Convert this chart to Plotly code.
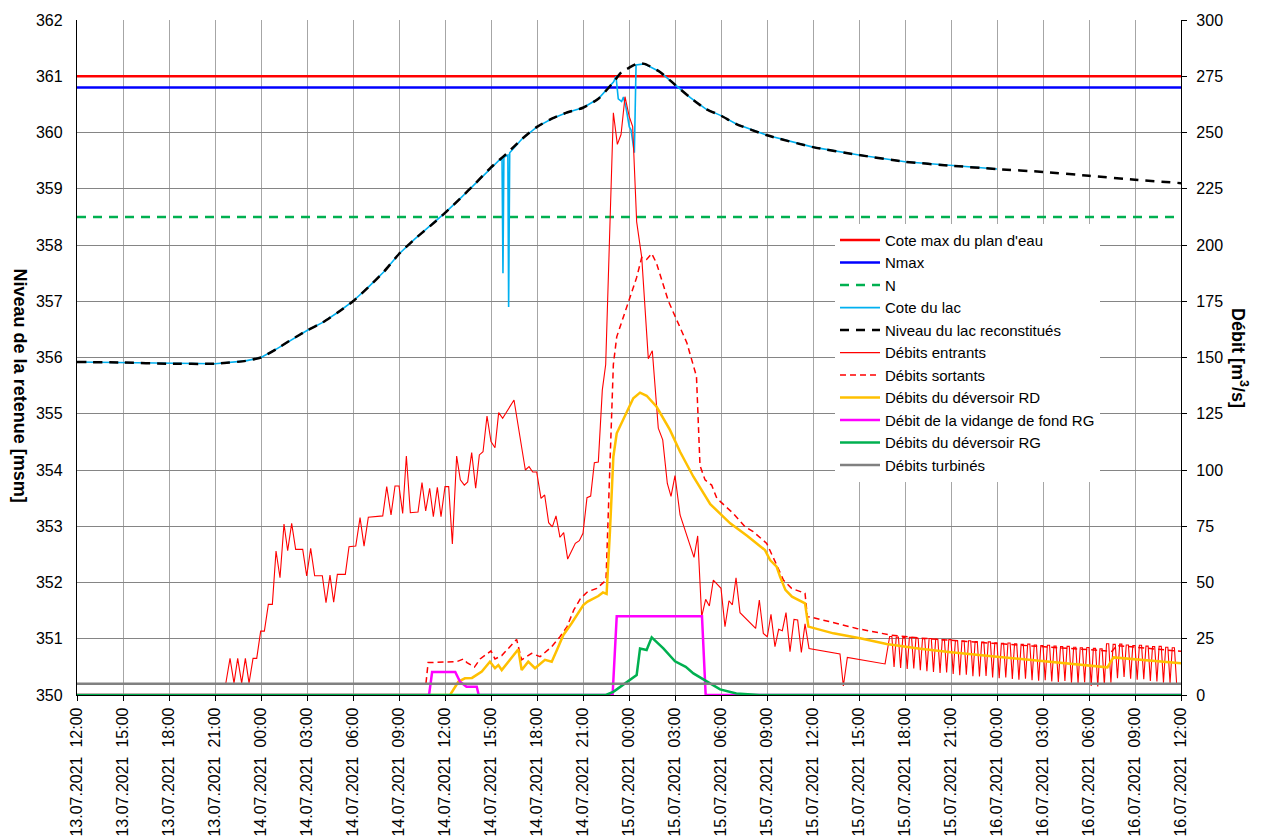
import pandas as pd
import plotly.graph_objects as go

START = pd.Timestamp("2021-07-13 12:00")

# ---- reference levels [msm] ----
cote_max = 361.0
nmax = 360.8
n_level = 358.5

# ---- reconstituted lake level (hours from start, msm) ----
lvl_t = [0, 3, 6, 9, 11, 12, 13, 14, 15, 16, 17, 18, 19, 20, 21, 22, 23, 24, 25, 26, 27, 28, 29, 30,
         31, 32, 33, 34, 35, 35.5, 36, 36.5, 37, 38, 39, 40, 41, 42, 43, 45, 48, 51, 54, 57, 60, 63,
         66, 69, 72]
lvl_v = [355.92, 355.91, 355.89, 355.89, 355.94, 356.0, 356.15, 356.32, 356.48, 356.62, 356.8,
         357.0, 357.25, 357.52, 357.84, 358.1, 358.33, 358.57, 358.83, 359.1, 359.38, 359.62,
         359.88, 360.1, 360.25, 360.36, 360.44, 360.6, 360.9, 361.07, 361.15, 361.22, 361.22,
         361.08, 360.85, 360.62, 360.42, 360.3, 360.15, 359.95, 359.74, 359.6, 359.48, 359.41,
         359.35, 359.3, 359.23, 359.16, 359.1]

# ---- measured lake level ----
lake_t = [0, 3, 6, 9, 11, 12, 13, 14, 15, 16, 17, 18, 19, 20, 21, 22, 23, 24, 25, 26, 27, 27.5,
          27.72, 27.78, 27.84, 28.1, 28.15, 28.22, 29, 30, 31, 32, 33, 34, 35, 35.15, 35.3, 35.52,
          35.64, 35.8, 36.02, 36.13, 36.35, 36.46, 37, 38, 39, 40, 41, 42, 43, 45, 48, 51, 54, 57, 60]
lake_v = [355.92, 355.91, 355.89, 355.89, 355.94, 356.0, 356.15, 356.32, 356.48, 356.62, 356.8,
          357.0, 357.25, 357.52, 357.84, 358.1, 358.33, 358.57, 358.83, 359.1, 359.38, 359.5,
          359.53, 357.5, 359.56, 359.6, 356.9, 359.64, 359.88, 360.1, 360.25, 360.36, 360.44,
          360.6, 360.9, 361.0, 360.6, 360.55, 360.63, 360.45, 360.1, 360.05, 359.64, 361.2,
          361.22, 361.08, 360.85, 360.62, 360.42, 360.3, 360.15, 359.95, 359.74, 359.6, 359.48,
          359.41, 359.35]

# ---- inflow [m3/s] ----
in_t = [0, 9.7, 9.98, 10.24, 10.48, 10.74, 10.98, 11.22, 11.48, 11.72, 11.98, 12.22, 12.48, 12.74,
        12.98, 13.24, 13.5, 13.74, 14.0, 14.26, 14.72, 14.98, 15.24, 15.5, 16.0, 16.24, 16.5,
        16.74, 16.98, 17.5, 17.74, 18.18, 18.46, 18.72, 19.0, 19.94, 20.2, 20.48, 20.74, 21.0,
        21.24, 21.48, 21.74, 22.24, 22.5, 22.74, 23.0, 23.24, 23.5, 23.74, 24.0, 24.24, 24.48,
        24.76, 25.0, 25.26, 25.48, 25.74, 26.0, 26.24, 26.48, 26.74, 27.0, 27.26, 27.5, 27.76,
        28.5, 28.96, 29.24, 29.48, 29.72, 29.98, 30.26, 30.5, 30.76, 31.0, 31.24, 31.5, 31.74,
        32.0, 32.26, 32.5, 32.76, 33.0, 33.26, 33.5, 33.74, 34.0, 34.26, 34.48, 34.98, 35.24,
        35.48, 35.74, 36.02, 36.24, 36.5, 36.83, 37.26, 37.52, 37.91, 38.2, 38.5, 38.74, 39.0,
        39.33, 40.24, 40.48, 40.74, 41.0, 41.24, 41.5, 42.0, 42.26, 42.52, 42.74, 42.98, 43.24,
        44.26, 44.5, 44.76, 45.02, 45.26, 45.52, 45.76, 46.0, 46.24, 46.5, 46.76, 47.0, 47.24,
        47.48, 47.74, 49.76, 49.98, 50.24, 52.7]
in_v = [5, 5, 16.3, 5.3, 16.3, 5.3, 16.3, 5.3, 16.3, 16.3, 28.4, 28.4, 40.3, 40.3,
        64, 52.1, 76, 64.1, 76.3, 64.7, 64.7, 52.9, 65.2, 53, 53, 41, 53.3,
        41.3, 53.6, 53.6, 65.9, 66.2, 78.8, 66.2, 79, 79.6, 92.6, 80, 92.9, 92.9,
        80.7, 106.2, 81, 81.3, 94.4, 81.8, 91.9, 79.3, 92.3, 79.3, 92.6, 92.6, 67.1,
        106.2, 95.6, 93.3, 94.7, 107.7, 91.9, 106.7, 108.1, 124, 112.6, 109.9, 125.5, 123,
        131.1, 112.6, 100, 101.5, 99.1, 99.1, 87.4, 88.9, 76.6, 74.7, 79.6, 70.1, 72.2,
        60.4, 64.4, 67.4, 68.6, 71.9, 87.7, 88.4, 103.2, 103.5, 135.6, 146.9, 258.8, 244.7,
        249.1, 265.9, 257, 252.6, 210.3, 194.5, 149.5, 153, 118.6, 113.4, 94, 88.3, 97.5,
        80, 61.2, 70.7, 34.8, 42.5, 39.6, 51.1, 47.4, 30.4, 41.9, 40.1, 52.1, 36.6,
        29.6, 42.2, 27.4, 25.9, 35.9, 21.5, 29.2, 28.6, 36.6, 19.3, 33.6, 33.3, 18.9,
        31.6, 20.7, 18.2, 4, 16.7, 13.8]
# oscillating tail of the inflow: high / low value of each tooth (7 teeth per 3 h) from 53:00 h
tooth_start = 53.0
tooth_period = 3 / 7
tooth_hi = [26.0, 25.7, 25.5, 25.6, 25.2, 25.0, 25.1, 24.7, 24.5, 24.6, 24.2, 24.0, 24.1, 23.7,
            23.5, 23.6, 23.2, 23.0, 23.1, 22.7, 22.5, 22.6, 22.2, 22.0, 22.1, 21.7, 21.5, 21.6,
            21.2, 21.0, 21.1, 20.7, 20.5, 22.8, 22.5, 22.6, 22.2, 22.0, 22.1, 21.7, 21.5, 21.6,
            21.2, 21.0]
tooth_lo = [12.5, 12.0, 11.6, 11.8, 11.0, 10.6, 10.2, 9.8, 10.0, 9.3, 8.8, 9.0, 8.4, 8.2, 8.5,
            7.8, 7.5, 7.8, 7.1, 6.8, 7.2, 6.6, 6.3, 6.6, 6.0, 5.8, 6.2, 5.5, 5.2, 5.6, 4.0, 3.8,
            4.5, 5.5, 7.5, 8.0, 7.2, 6.8, 7.0, 6.2, 6.0, 5.5, 5.2, 5.0]

# ---- outflow [m3/s] ----
out_t = [22.76, 22.9, 24.75, 25.2, 25.43, 25.92, 26.29, 27.0, 27.26, 27.7, 28.67, 29.0, 29.65,
         30.2, 30.96, 31.5, 31.96, 32.4, 32.85, 33.3, 33.9, 34.22, 34.5, 34.76, 34.98, 35.2,
         35.63, 36.07, 36.5, 36.83, 37.15, 37.48, 37.8, 38.57, 39.12, 39.77, 40.4, 40.63, 40.96,
         41.39, 41.73, 42.8, 43.57, 44.1, 44.98, 45.3, 45.63, 46.07, 46.6, 47.48, 47.63, 48.0,
         50.85, 53.0, 55.0, 58.0, 61.0, 64.0, 67.2, 67.5, 67.8, 69.0, 72.0]
out_v = [5.3, 14.4, 14.8, 16, 14.4, 12.4, 16, 19.6, 16, 17.5, 24.7, 15.6, 18.5,
         17, 21.5, 25.9, 30.4, 37.8, 43, 45.9, 47.4, 49.3, 51, 103, 146.9, 159.2,
         168, 176, 185.6, 194.5, 193.6, 196.2, 191.8, 175, 166.2, 156.6, 141.6, 102, 95.6,
         93.3, 87.4, 80.7, 74.8, 72.6, 67.4, 63, 57.8, 51.1, 47.4, 45.2, 34.8, 34.4,
         29.6, 26.7, 25.3, 23.8, 22.3, 21.0, 19.6, 19.4, 22.0, 21.3, 19.4]

# ---- spillway RD [m3/s] ----
rd_t = [0, 24.33, 24.87, 25.3, 25.76, 26.4, 26.93, 27.26, 27.48, 27.7, 28.78, 29.0, 29.43, 29.87,
        30.52, 30.96, 31.3, 31.72, 32.26, 32.59, 33.02, 33.3, 34.0, 34.3, 34.54, 34.76, 34.98,
        35.2, 35.85, 36.28, 36.72, 37.15, 37.8, 38.67, 39.33, 40.2, 41.3, 42.6, 43.7, 44.87,
        45.2, 45.63, 45.85, 46.2, 46.63, 47.48, 47.7, 49.33, 51.07, 52.8, 54.87, 57, 60, 63, 66,
        67.2, 67.6, 70, 72]
rd_v = [0, 0, 5.9, 7.4, 7.6, 10.4, 14.8, 11.9, 13.3, 11.1, 20.3, 11.1, 14.8, 11.9,
        15.6, 14.8, 20, 26.7, 31.9, 35.6, 40, 41.5, 44, 45.6, 44.9, 73, 105.9,
        116.3, 125.9, 131.9, 134.4, 133, 128.1, 117.8, 108.1, 97, 84.8, 76.3, 70.8, 64.4,
        60, 57, 52.6, 46.7, 43.7, 40.7, 30.4, 27.4, 25.2, 22.7, 20.7, 19.0, 17.0, 15.0, 13.3,
        12.3, 16.7, 15.2, 14.1]

# ---- bottom outlet RG [m3/s] ----
vid_t = [0, 22.96, 23.16, 24.67, 24.98, 25.4, 26.07, 26.2, 34.93, 35.2, 40.76, 41.0, 72]
vid_v = [0, 0, 10.2, 10.2, 5.9, 3.7, 3.7, 0, 0, 35, 35, 0, 0]

# ---- spillway RG [m3/s] ----
rg_t = [0, 34.5, 35.0, 35.76, 36.5, 36.72, 37.15, 37.48, 38.24, 39.0, 39.7, 40.2, 41.07, 41.94,
        43.0, 44.5, 72]
rg_v = [0, 0, 1.5, 5.2, 8.9, 20.7, 20, 25.6, 20.7, 15, 12.5, 9.6, 5.9, 2.5, 0.7, 0, 0]

# ---- turbined flow [m3/s] ----
turb_t = [0, 72]
turb_v = [5, 5]


def to_time(hours):
    return [START + pd.Timedelta(hours=h) for h in hours]


# build inflow tail from the tooth lists (samples: high, high, low within each tooth)
tail_t, tail_v = [], []
for i, (hi, lo) in enumerate(zip(tooth_hi, tooth_lo)):
    base = tooth_start + tooth_period * i
    tail_t += [base, base + tooth_period / 3, base + 2 * tooth_period / 3]
    tail_v += [hi, hi, lo]
inflow_t = in_t + [t for t in tail_t if t <= 72]
inflow_v = in_v + [v for t, v in zip(tail_t, tail_v) if t <= 72]

FONT = "Liberation Sans, Arial, sans-serif"
TICKFONT = dict(family=FONT, size=16, color="black")
END = START + pd.Timedelta(hours=72)
ticks = pd.date_range(START, END, freq="3h")
tick_text = [d.strftime("%d.%m.%Y") + "\u00a0\u00a0" + d.strftime("%H:%M") for d in ticks]

fig = go.Figure()
xr = to_time([0, 72])
fig.add_trace(go.Scatter(x=xr, y=[cote_max, cote_max], mode="lines", name="Cote max du plan d'eau",
                         line=dict(color="#FF0000", width=2.5)))
fig.add_trace(go.Scatter(x=xr, y=[nmax, nmax], mode="lines", name="Nmax",
                         line=dict(color="#0000FF", width=2.5)))
fig.add_trace(go.Scatter(x=xr, y=[n_level, n_level], mode="lines", name="N",
                         line=dict(color="#00B050", width=2.5, dash="9px,7px")))
fig.add_trace(go.Scatter(x=to_time(lake_t), y=lake_v, mode="lines", name="Cote du lac",
                         line=dict(color="#00B0F0", width=1.6)))
fig.add_trace(go.Scatter(x=to_time(lvl_t), y=lvl_v, mode="lines", name="Niveau du lac reconstitués",
                         line=dict(color="#000000", width=2.5, dash="9px,7px", shape="spline", smoothing=0.6)))
fig.add_trace(go.Scatter(x=to_time(inflow_t), y=inflow_v, mode="lines", name="Débits entrants",
                         yaxis="y2", line=dict(color="#FF0000", width=1.1)))
fig.add_trace(go.Scatter(x=to_time(out_t), y=out_v, mode="lines", name="Débits sortants",
                         yaxis="y2", line=dict(color="#FF0000", width=1.5, dash="6px,4px")))
fig.add_trace(go.Scatter(x=to_time(rd_t), y=rd_v, mode="lines", name="Débits du déversoir RD",
                         yaxis="y2", line=dict(color="#FFC000", width=2.5)))
fig.add_trace(go.Scatter(x=to_time(vid_t), y=vid_v, mode="lines", name="Débit de la vidange de fond RG",
                         yaxis="y2", line=dict(color="#FF00FF", width=2.5)))
fig.add_trace(go.Scatter(x=to_time(rg_t), y=rg_v, mode="lines", name="Débits du déversoir RG",
                         yaxis="y2", line=dict(color="#00B050", width=2.5)))
fig.add_trace(go.Scatter(x=to_time(turb_t), y=turb_v, mode="lines", name="Débits turbinés",
                         yaxis="y2", line=dict(color="#808080", width=2.5)))

fig.update_layout(
    width=1263, height=839,
    margin=dict(l=69, r=90, t=12, b=152, autoexpand=False),
    paper_bgcolor="white", plot_bgcolor="white",
    font=dict(family=FONT, size=15, color="black"),
    showlegend=True,
    legend=dict(x=0.6866, y=0.698, xanchor="left", yanchor="top", bgcolor="white",
                borderwidth=0, font=dict(family=FONT, size=15, color="black"),
                tracegroupgap=0, itemwidth=40),
    xaxis=dict(type="date", range=[START, END], tickmode="array", tickvals=list(ticks),
               ticktext=tick_text, tickangle=-90, showgrid=True, gridcolor="#A6A6A6", gridwidth=1.3,
               showline=True, linecolor="black", linewidth=1.3, ticks="outside", ticklen=5,
               tickcolor="black", zeroline=False, mirror=False, tickfont=TICKFONT),
    yaxis=dict(range=[350, 362], dtick=1, tick0=350, showgrid=True, gridcolor="#858585", gridwidth=1,
               showline=True, linecolor="black", linewidth=1.3, ticks="outside", ticklen=10,
               tickcolor="rgba(0,0,0,0)", zeroline=False, tickfont=TICKFONT),
    yaxis2=dict(range=[0, 300], dtick=25, tick0=0, overlaying="y", side="right", showgrid=False,
                showline=True, linecolor="black", linewidth=1.3, ticks="outside", ticklen=5,
                tickcolor="black", zeroline=False, ticklabelstandoff=6, tickfont=TICKFONT),
    annotations=[
        dict(text="<b>Niveau de la retenue [msm]</b>", xref="paper", yref="paper",
             x=-0.052, y=0.459, textangle=90, showarrow=False, xanchor="center", yanchor="middle",
             font=dict(family=FONT, size=18, color="black")),
        dict(text="<b>Débit [m<sup>3</sup>/s]</b>", xref="paper", yref="paper",
             x=1.053, y=0.5, textangle=90, showarrow=False, xanchor="center", yanchor="middle",
             font=dict(family=FONT, size=18, color="black")),
    ],
)

fig.write_html("out.html")
